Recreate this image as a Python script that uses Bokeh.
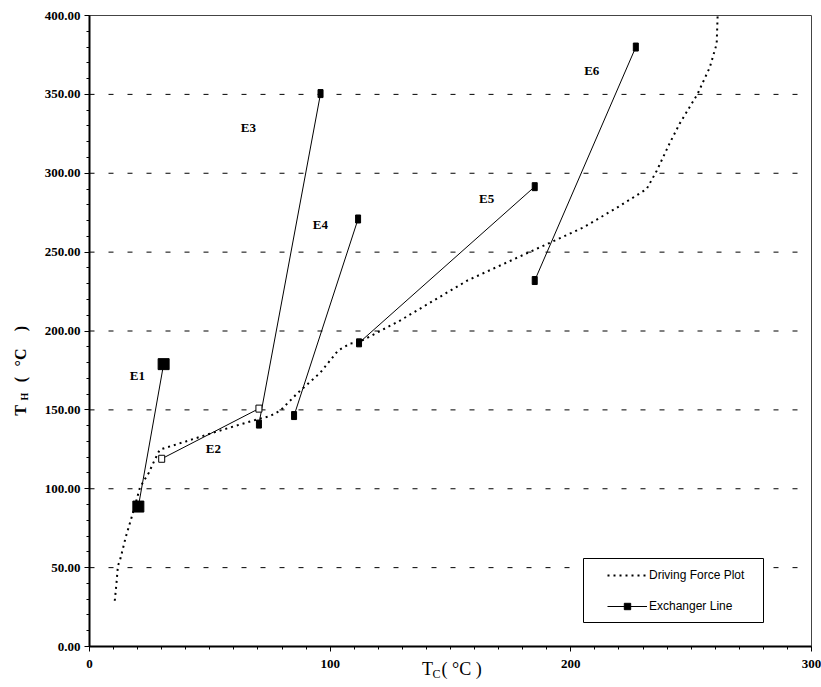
import math
from bokeh.plotting import figure
from bokeh.models import (FixedTicker, NumeralTickFormatter, Range1d, Label,
                          Legend, LegendItem, BoxAnnotation)
from bokeh.core.properties import value
from bokeh.embed import file_html
from bokeh.resources import INLINE

# ---------------- data ----------------
# Driving force plot (T_C, T_H)
df_tc = [10.5, 11.2, 11.8, 12.9, 15.0, 18.3, 21.0, 24.6, 27.0, 29.2, 40.0, 51.5,
         62.0, 71.0, 75.0, 79.3, 86.7, 95.9, 103.3, 108.3, 111.6, 129.0, 157.0,
         184.2, 205.0, 219.0, 231.5, 235.7, 241.0, 245.2, 252.7, 257.7, 260.6, 261.0]
df_th = [29.0, 40.0, 51.0, 56.0, 69.0, 86.0, 101.0, 110.0, 118.0, 124.8, 130.0, 135.6,
         140.5, 144.5, 146.0, 149.6, 161.0, 173.6, 187.6, 192.0, 192.6, 206.6, 232.0,
         251.0, 265.5, 278.0, 290.0, 301.6, 318.8, 331.4, 350.4, 367.0, 382.0, 400.0]

# Exchanger lines
ex_names = ["E1", "E2", "E3", "E4", "E5", "E6"]
ex_tc_a = [20.3, 30.0, 70.4, 85.0, 112.0, 185.0]
ex_th_a = [88.7, 119.0, 141.0, 146.4, 192.5, 232.0]
ex_tc_b = [30.8, 70.4, 96.0, 111.6, 185.0, 227.0]
ex_th_b = [179.0, 150.8, 350.5, 271.0, 291.5, 380.0]

# exchanger label anchors
label_tc = [19.9, 51.5, 66.0, 95.9, 165.0, 208.7]
label_th = [171.7, 125.5, 329.0, 267.4, 284.0, 365.0]

y_ticks = [0, 50, 100, 150, 200, 250, 300, 350, 400]
y_minor = list(range(0, 401, 10))
x_ticks = [0, 100, 200, 300]
x_minor = list(range(0, 301, 10))

X_MIN, X_MAX = x_ticks[0], x_ticks[-1]
Y_MIN, Y_MAX = y_ticks[0], y_ticks[-1]

# ---------------- figure ----------------
# The frame covers the whole drawing (axes drawn at fixed locations), so the
# axis titles and edge tick labels can be drawn inside it without clipping.
W, H = 821, 685
FL, FR, FT, FB = 2, 0, 4, 2            # borders around frame
AX_LEFT = 87                           # px from frame left to x = X_MIN
AX_RIGHT = 10                          # px from x = X_MAX to frame right
AX_BOTTOM = 37                         # px from frame bottom to y = Y_MIN
AX_TOP = 11                            # px from y = Y_MAX to frame top
fw = W - FL - FR
fh = H - FT - FB
sx = (fw - AX_LEFT - AX_RIGHT) / (X_MAX - X_MIN)
sy = (fh - AX_BOTTOM - AX_TOP) / (Y_MAX - Y_MIN)

p = figure(width=W, height=H, output_backend="svg", toolbar_location=None,
           x_range=Range1d(X_MIN - AX_LEFT / sx, X_MAX + AX_RIGHT / sx),
           y_range=Range1d(Y_MIN - AX_BOTTOM / sy, Y_MAX + AX_TOP / sy),
           min_border_left=FL, min_border_right=FR, min_border_top=FT,
           min_border_bottom=FB)
p.background_fill_color = "white"
p.border_fill_color = "white"
p.outline_line_color = None
p.xgrid.visible = False
p.ygrid.visible = False

serif = "Liberation Serif"
for ax in (p.xaxis[0], p.yaxis[0]):
    ax.fixed_location = 0
    ax.axis_line_width = 2
    ax.axis_line_color = "black"
    ax.major_tick_line_color = "black"
    ax.minor_tick_line_color = "black"
    ax.major_tick_in = 0
    ax.major_tick_out = 5
    ax.minor_tick_in = 0
    ax.minor_tick_out = 3
    ax.major_label_text_font = serif
    ax.major_label_text_font_style = "bold"
    ax.major_label_text_font_size = "13px"
    ax.major_label_text_color = "black"

p.yaxis.bounds = (Y_MIN, Y_MAX)
p.xaxis.bounds = (X_MIN, X_MAX)
p.yaxis.ticker = FixedTicker(ticks=y_ticks, minor_ticks=y_minor)
p.yaxis.formatter = NumeralTickFormatter(format="0.00")
p.yaxis.major_label_standoff = 4
p.xaxis.ticker = FixedTicker(ticks=x_ticks, minor_ticks=x_minor)
p.xaxis.major_label_standoff = 8

# dashed horizontal grid lines between the axes and the right border
grid_y = y_ticks[1:-1]
p.segment(x0=[X_MIN] * len(grid_y), y0=grid_y, x1=[X_MAX] * len(grid_y), y1=grid_y,
          line_color="black", line_width=1, line_dash="5 14")

# top and right border
p.line([X_MIN, X_MAX, X_MAX], [Y_MAX, Y_MAX, Y_MIN], line_color="#444444", line_width=1)

# driving force dotted curve
df_r = p.line(df_tc, df_th, line_color="black", line_width=2, line_dash="2 4")

# exchanger segments
seg_r = p.segment(x0=ex_tc_a, y0=ex_th_a, x1=ex_tc_b, y1=ex_th_b,
                  line_color="black", line_width=1)

# markers: E1 large filled, E2 open, others small filled
e1_x = [ex_tc_a[0], ex_tc_b[0]]
e1_y = [ex_th_a[0], ex_th_b[0]]
e1_r = p.scatter(e1_x, e1_y, marker="square", size=11, fill_color="black", line_color="black")

e2_x = [ex_tc_a[1], ex_tc_b[1]]
e2_y = [ex_th_a[1], ex_th_b[1]]
p.rect(e2_x, e2_y, width=6, height=7, width_units="screen", height_units="screen",
       fill_color="white", line_color="black", line_width=1)

sm_x = ex_tc_a[2:] + ex_tc_b[2:]
sm_y = ex_th_a[2:] + ex_th_b[2:]
p.rect(sm_x, sm_y, width=5, height=8, width_units="screen", height_units="screen",
       fill_color="black", line_color="black", line_width=1)

# exchanger labels
p.text(x=label_tc, y=label_th, text=ex_names, text_font=value(serif),
       text_font_style="bold", text_font_size="13px", text_align="center",
       text_baseline="middle", text_color="black")

# axis titles (with subscripts), positioned in px from the frame's bottom-left
def lab(x, y, t, size, angle=0.0, align="center", style="normal"):
    p.add_layout(Label(x=x, y=y, x_units="screen", y_units="screen", text=t,
                       text_font=serif, text_font_size=size, text_font_style=style,
                       text_align=align, text_baseline="middle", angle=angle,
                       text_color="black"))

# y title: T_H ( °C )
lab(18, 273, "T", "16px", math.pi / 2, style="bold")
lab(22, 287, "H", "10px", math.pi / 2, style="bold")
lab(18, 304, "(", "16px", math.pi / 2, style="bold")
lab(18, 326, "°C", "16px", math.pi / 2, style="bold")
lab(18, 355, ")", "16px", math.pi / 2, style="bold")

# x title: T_C( °C )
lab(425, 15, "T", "18px")
lab(434, 10, "C", "12px")
lab(439, 15, "( °C )", "18px", align="left")

# legend box + legend
box = BoxAnnotation(left=581, right=761, bottom=61, top=125,
                    left_units="screen", right_units="screen",
                    bottom_units="screen", top_units="screen",
                    fill_color="white", fill_alpha=1.0,
                    line_color="black", line_width=1, line_alpha=1.0)
p.add_layout(box)

legend = Legend(items=[LegendItem(label="Driving Force Plot", renderers=[df_r]),
                       LegendItem(label="Exchanger Line", renderers=[seg_r, e1_r])],
                location=(605, 69), padding=0, margin=0, spacing=15,
                glyph_width=40, glyph_height=16, label_height=16, label_standoff=2,
                border_line_alpha=0, background_fill_alpha=0,
                label_text_font="Liberation Sans",
                label_text_font_size="12px", label_text_color="black")
p.add_layout(legend)

open("out.html", "w").write(file_html(p, INLINE))
